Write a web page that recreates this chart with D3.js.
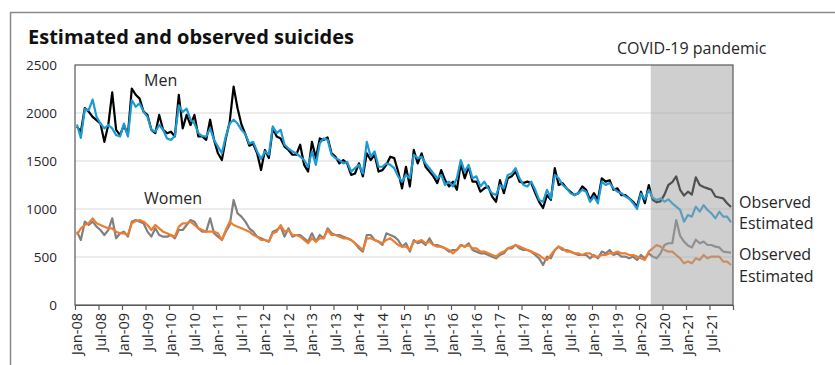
<!DOCTYPE html>
<html>
<head>
<meta charset="utf-8">
<script src="https://cdn.jsdelivr.net/npm/d3@7"></script>
<style>
  body { margin: 0; background: #fff; }
  text { font-family: "Open Sans", sans-serif; }
</style>
</head>
<body>
<div id="chart-area"></div>
<script>
// categories: one per month, Jan-08 .. Dec-21
var years = ["08", "09", "10", "11", "12", "13", "14", "15", "16", "17", "18", "19", "20", "21"];
var monthNames = ["Jan", "Feb", "Mar", "Apr", "May", "Jun", "Jul", "Aug", "Sep", "Oct", "Nov", "Dec"];
var months = [];
years.forEach(function(y) {
  monthNames.forEach(function(m) { months.push(m + "-" + y); });
});

var yTicks = [0, 500, 1000, 1500, 2000, 2500];
var covidStart = "Apr-20";

// series values, one row per year
var menObserved = [
  1858, 1805, 2050, 2015, 1960, 1925, 1890, 1700, 1875, 2215, 1825, 1770,
  1875, 1770, 2255, 2190, 2150, 2015, 1980, 1825, 1790, 1980, 1825, 1790,
  1805, 1755, 2190, 1840, 1980, 1875, 1980, 1755, 1755, 1720, 1930, 1720,
  1580, 1510, 1735, 1910, 2275, 2050, 1880, 1780, 1660, 1680, 1580, 1405,
  1615, 1530, 1840, 1755, 1735, 1650, 1615, 1565, 1565, 1670, 1460, 1390,
  1700, 1530, 1735, 1720, 1745, 1580, 1545, 1475, 1510, 1475, 1355, 1370,
  1475, 1340, 1580, 1510, 1565, 1390, 1405, 1460, 1545, 1530, 1390, 1215,
  1440, 1235, 1615, 1475, 1580, 1440, 1390, 1340, 1270, 1405, 1300, 1235,
  1285, 1200, 1475, 1320, 1440, 1285, 1285, 1180, 1215, 1235, 1130, 1075,
  1300, 1165, 1320, 1340, 1390, 1285, 1270, 1285, 1270, 1165, 1075, 1010,
  1145, 1095, 1425, 1250, 1270, 1215, 1180, 1145, 1165, 1235, 1200, 1095,
  1165, 1095, 1320, 1285, 1300, 1200, 1215, 1145, 1145, 1110, 1075, 1025,
  1180, 1060, 1250, 1095, 1070, 1080, 1150, 1250, 1280, 1340, 1200, 1140,
  1180, 1150, 1330, 1250, 1230, 1215, 1200, 1130, 1120, 1110, 1060, 1020
];
var menEstimated = [
  1880, 1740, 2040, 2030, 2140, 1960, 1890, 1840, 1875, 1840, 1770, 1755,
  1890, 1755, 2135, 2065, 2100, 2015, 1960, 1825, 1805, 1875, 1825, 1735,
  1720, 1760, 2080, 2010, 2045, 1930, 1890, 1790, 1760, 1755, 1840, 1720,
  1650, 1580, 1755, 1890, 1930, 1890, 1825, 1780, 1680, 1700, 1600, 1520,
  1600, 1565, 1860, 1790, 1825, 1670, 1630, 1600, 1580, 1545, 1510, 1440,
  1600, 1460, 1685, 1735, 1720, 1565, 1530, 1510, 1475, 1490, 1390, 1425,
  1460, 1370, 1700, 1545, 1600, 1440, 1440, 1475, 1460, 1425, 1340, 1285,
  1355, 1320, 1565, 1530, 1545, 1475, 1425, 1370, 1320, 1355, 1250, 1285,
  1235, 1320, 1510, 1390, 1460, 1320, 1340, 1235, 1285, 1215, 1165, 1145,
  1250, 1215, 1355, 1370, 1425, 1320, 1250, 1235, 1285, 1200, 1095, 1075,
  1200, 1110, 1355, 1320, 1250, 1215, 1165, 1145, 1165, 1200, 1180, 1075,
  1130, 1060, 1285, 1250, 1270, 1215, 1180, 1165, 1130, 1110, 1060, 1000,
  1160, 1100, 1200, 1118, 1094, 1110, 1076, 1100, 1059, 1024, 990, 868,
  938, 920, 1024, 972, 1041, 990, 955, 903, 972, 920, 920, 861
];
var womenObserved = [
  764, 677, 868, 833, 868, 816, 781, 729, 781, 903, 695, 747,
  764, 712, 868, 885, 868, 851, 764, 712, 799, 729, 712, 712,
  729, 695, 781, 781, 833, 885, 868, 799, 764, 764, 903, 747,
  712, 677, 764, 833, 1094, 955, 920, 868, 799, 764, 712, 695,
  677, 660, 764, 781, 816, 712, 799, 712, 729, 729, 695, 660,
  747, 660, 729, 695, 799, 747, 729, 729, 712, 695, 677, 643,
  590, 556, 729, 729, 677, 660, 625, 747, 729, 712, 677, 608,
  643, 556, 677, 643, 660, 625, 695, 625, 625, 608, 590, 556,
  573, 573, 625, 608, 643, 573, 556, 538, 538, 521, 504, 486,
  521, 538, 590, 590, 625, 590, 573, 573, 556, 521, 486, 417,
  504, 486, 573, 608, 573, 573, 556, 538, 521, 521, 521, 486,
  521, 486, 556, 538, 573, 521, 538, 504, 504, 486, 504, 469,
  521, 486, 538, 504, 486, 538, 625, 643, 643, 885, 720, 660,
  620, 600, 680, 643, 660, 625, 625, 608, 600, 556, 550, 545
];
var womenEstimated = [
  729, 799, 833, 851, 903, 851, 833, 816, 799, 799, 764, 747,
  747, 729, 851, 875, 885, 868, 833, 781, 833, 799, 764, 747,
  729, 712, 816, 851, 851, 868, 833, 799, 781, 764, 764, 764,
  747, 677, 781, 868, 833, 816, 799, 781, 764, 729, 712, 677,
  677, 660, 747, 764, 833, 764, 781, 729, 729, 712, 677, 643,
  695, 660, 695, 695, 781, 729, 729, 712, 695, 695, 677, 643,
  608, 573, 695, 695, 677, 660, 643, 677, 695, 660, 625, 608,
  608, 573, 660, 660, 677, 643, 660, 625, 608, 608, 590, 573,
  538, 573, 625, 608, 625, 590, 590, 556, 556, 538, 521, 504,
  538, 556, 590, 608, 625, 608, 590, 573, 556, 538, 521, 486,
  469, 521, 573, 608, 590, 556, 556, 538, 538, 521, 538, 538,
  504, 504, 521, 521, 538, 538, 556, 538, 538, 521, 521, 504,
  486, 470, 556, 590, 625, 608, 573, 556, 556, 521, 486, 434,
  452, 434, 486, 469, 521, 486, 504, 504, 504, 452, 452, 417
];

////////////////////////
// layout
////////////////////////
var W = 835, H = 365;
var plot = { left: 75, right: 733, top: 65, bottom: 305 };

var svg = d3.select("#chart-area")
  .append("svg")
  .attr("width", W)
  .attr("height", H);

// outer frame (cropped chart border)
svg.append("path")
  .attr("d", "M10.5," + H + "V12.5H" + W)
  .attr("fill", "none")
  .attr("stroke", "#8a8a8a")
  .attr("stroke-width", 1.5);

var x = d3.scaleLinear().domain([0, months.length]).range([plot.left, plot.right]);
var y = d3.scaleLinear().domain([0, 2500]).range([plot.bottom, plot.top]);

// gridlines
svg.append("g")
  .selectAll("line")
  .data(yTicks.filter(function(d) { return d > 0 && d < 2500; }))
  .enter()
  .append("line")
  .attr("x1", plot.left)
  .attr("x2", plot.right)
  .attr("y1", function(d) { return y(d); })
  .attr("y2", function(d) { return y(d); })
  .attr("stroke", "#d9d9d9")
  .attr("stroke-width", 1);

// Y labels
svg.append("g")
  .selectAll("text")
  .data(yTicks)
  .enter()
  .append("text")
  .attr("x", 57)
  .attr("y", function(d) { return y(d); })
  .attr("dy", "0.36em")
  .attr("text-anchor", "end")
  .attr("font-size", "13.5px")
  .attr("fill", "#262626")
  .text(function(d) { return d; });

// lines
var line = d3.line()
  .x(function(d, i) { return x(i + 0.5); })
  .y(function(d) { return y(d); });

var series = [
  { values: menObserved, color: "#000000" },
  { values: menEstimated, color: "#1c9ad6" },
  { values: womenObserved, color: "#808080" },
  { values: womenEstimated, color: "#ed7d31" }
];

svg.append("g")
  .selectAll("path")
  .data(series)
  .enter()
  .append("path")
  .attr("d", function(d) { return line(d.values); })
  .attr("fill", "none")
  .attr("stroke", function(d) { return d.color; })
  .attr("stroke-width", 2.2)
  .attr("stroke-linejoin", "round");

// COVID-19 shading, drawn over the lines
var shadeFrom = months.indexOf(covidStart);
svg.append("rect")
  .attr("x", x(shadeFrom))
  .attr("y", plot.top)
  .attr("width", x(months.length) - x(shadeFrom))
  .attr("height", plot.bottom - plot.top)
  .attr("fill", "#a0a0a0")
  .attr("fill-opacity", 0.5);

// plot border
svg.append("rect")
  .attr("x", plot.left)
  .attr("y", plot.top)
  .attr("width", plot.right - plot.left)
  .attr("height", plot.bottom - plot.top)
  .attr("fill", "none")
  .attr("stroke", "#595959")
  .attr("stroke-width", 1.2);

// X axis
var xAxisCall = d3.axisBottom(x)
  .tickValues(d3.range(0, months.length + 1, 6))
  .tickSize(5)
  .tickSizeOuter(0)
  .tickFormat(function(i) { return i < months.length ? months[i] : ""; });

var xAxisGroup = svg.append("g")
  .attr("transform", "translate(0," + plot.bottom + ")")
  .call(xAxisCall);

xAxisGroup.select(".domain").attr("stroke", "#595959").attr("stroke-width", 1.2);
xAxisGroup.selectAll(".tick line").attr("stroke", "#595959").attr("stroke-width", 1.2);
xAxisGroup.selectAll(".tick text")
  .attr("font-family", "Open Sans, sans-serif")
  .attr("font-size", "14.5px")
  .attr("fill", "#262626")
  .attr("transform", "rotate(-90)")
  .attr("text-anchor", "end")
  .attr("x", -8)
  .attr("y", 1.5)
  .attr("dy", "0.35em");

// texts
svg.append("text")
  .attr("x", 28)
  .attr("y", 44)
  .attr("font-size", "20px")
  .attr("font-weight", "bold")
  .attr("fill", "#111")
  .text("Estimated and observed suicides");

svg.append("text")
  .attr("x", 617)
  .attr("y", 54)
  .attr("font-size", "16px")
  .attr("fill", "#262626")
  .text("COVID-19 pandemic");

svg.append("text")
  .attr("x", 144)
  .attr("y", 86)
  .attr("font-size", "16px")
  .attr("fill", "#262626")
  .text("Men");

svg.append("text")
  .attr("x", 144)
  .attr("y", 204)
  .attr("font-size", "16px")
  .attr("fill", "#262626")
  .text("Women");

var endLabels = [
  { text: "Observed", at: 1010 },
  { text: "Estimated", at: 792 },
  { text: "Observed", at: 470 },
  { text: "Estimated", at: 240 }
];
svg.append("g")
  .selectAll("text")
  .data(endLabels)
  .enter()
  .append("text")
  .attr("x", 739)
  .attr("y", function(d) { return y(d.at); })
  .attr("font-size", "16px")
  .attr("fill", "#262626")
  .text(function(d) { return d.text; });
</script>
</body>
</html>
